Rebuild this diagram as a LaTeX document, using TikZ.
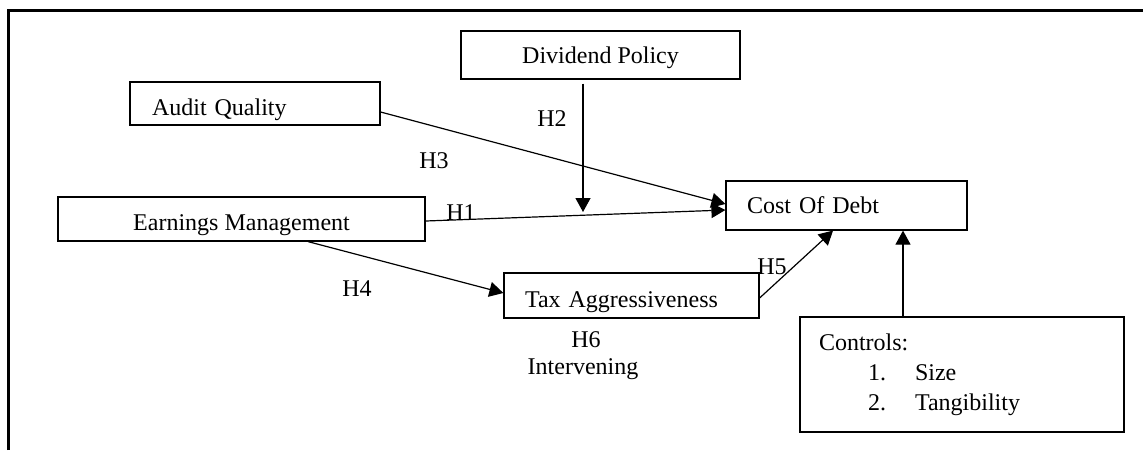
\documentclass[tikz,border=0pt]{standalone}
\usepackage{fontspec}
\setmainfont{Liberation Serif}
\usetikzlibrary{arrows.meta, positioning, calc}
\tikzset{
  cdblock/.style={rectangle, draw=black, line width=0.6pt, inner sep=0pt,
                  font=\fontsize{12}{15}\selectfont},
  cdlow/.style={text height=12pt, text depth=0.5pt},
  cdmid/.style={text height=10pt, text depth=2pt},
  cdarrow/.style={-{Triangle[length=7pt,width=7.5pt]}, line width=0.6pt},
  cdlabel/.style={font=\fontsize{12}{15}\selectfont, anchor=base, inner sep=0pt},
}

\begin{document}
\begin{tikzpicture}[x=0.5pt, y=-0.5pt]
  \useasboundingbox (0,0) rectangle (1143,450);
  % frame
  \draw[line width=1.3pt] (8.7,450) -- (8.7,10.7) -- (1143,10.7);

  % variables
  \node[cdblock, cdlow, text width=103pt, inner xsep=11pt, align=left,
        minimum height=21.5pt] (audit) at (255,103.5) {Audit Quality};
  \node[cdblock, cdmid, minimum width=139.5pt, minimum height=24pt] (div) at (600.5,55) {Dividend Policy};
  \node[cdblock, cdlow, minimum width=183.5pt, minimum height=22pt] (earn) at (241.5,219) {Earnings Management};
  \node[cdblock, cdmid, text width=99.5pt, inner xsep=10.5pt, align=left,
        minimum height=24.5pt] (cost) at (846.5,205.5) {Cost Of Debt};
  \node[cdblock, cdlow, text width=106.5pt, inner xsep=10.5pt, align=left,
        minimum height=22.5pt] (tax) at (631.5,295.5) {Tax Aggressiveness};
  \node[cdblock, text width=143pt, inner xsep=9.5pt, align=left,
        minimum height=57.5pt] (ctrl) at (962,374.5)
        {Controls:\\\hspace*{24.5pt}\makebox[23.5pt][l]{1.}Size\\\hspace*{24.5pt}\makebox[23.5pt][l]{2.}Tangibility};

  % paths
  \coordinate (h2tip) at (583,212);
  \draw[cdarrow] ($(audit.east)+(0,8.5)$) -- ($(cost.west)+(0,-1.5)$);
  \draw[cdarrow] ($(earn.east)+(0,2)$) -- ($(cost.west)+(0,4.5)$);
  \draw[cdarrow] ($(div.south)+(-17.5,4)$) -- (h2tip);
  \draw[cdarrow] ($(earn.south)+(66.5,0)$) -- ($(tax.west)+(0,-2.5)$);
  \draw[cdarrow] ($(tax.east)+(0,2.5)$) -- ($(cost.south)+(-13.5,0)$);
  \draw[cdarrow] ($(ctrl.north)+(-59,0)$) -- ($(cost.south)+(56.5,0)$);

  % hypotheses
  \node[cdlabel] (h1) at (461,220) {H1};
  \node[cdlabel] (h2) at (552,126) {H2};
  \node[cdlabel] (h3) at (434,168) {H3};
  \node[cdlabel] (h4) at (357,296) {H4};
  \node[cdlabel] (h5) at (772,274) {H5};
  \node[cdlabel] (h6) at (586,347) {H6};
  \node[cdlabel] (interv) at (583,374) {Intervening};
\end{tikzpicture}
\end{document}
